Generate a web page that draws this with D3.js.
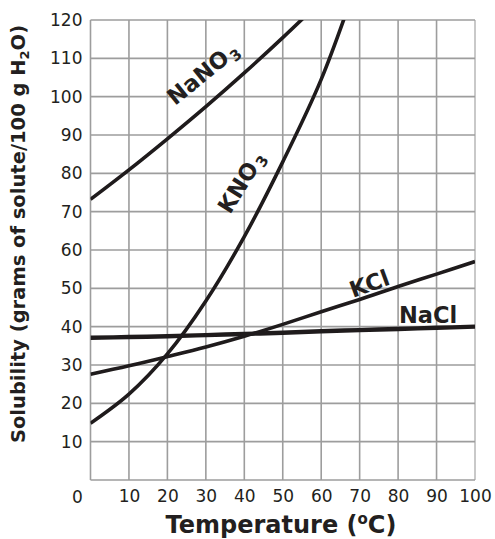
<!DOCTYPE html>
<html>
<head>
<meta charset="utf-8">
<script src="https://cdn.jsdelivr.net/npm/d3@7"></script>
<style>
  html, body { margin: 0; padding: 0; background: #fff; }
  svg { display: block; }
  text { font-family: "DejaVu Sans", Verdana, sans-serif; fill: #231f20; }
</style>
</head>
<body>
<svg id="chart" width="495" height="539"></svg>
<script>
// ---- data ----
const temps = [0, 10, 20, 30, 40, 50, 60, 70, 80, 90, 100];
const naNO3 = [[0, 73.2], [10, 80.9], [20, 89], [30, 97.4], [40, 106.2], [50, 115.4], [60, 125]];
const kNO3  = [[0, 14.8], [10, 22.4], [20, 32.9], [30, 46.7], [40, 63.5], [50, 83], [60, 104.5], [70, 132]];
const kCl   = [27.6, 29.8, 32.2, 34.7, 37.5, 40.6, 43.9, 47.1, 50.5, 53.7, 57];
const naCl  = [37.1, 37.3, 37.5, 37.8, 38.1, 38.4, 38.8, 39.1, 39.4, 39.7, 40];
const xTicks = [10, 20, 30, 40, 50, 60, 70, 80, 90, 100];
const yTicks = [10, 20, 30, 40, 50, 60, 70, 80, 90, 100, 110, 120];

const svg = d3.select("#chart");
const x = d3.scaleLinear().domain([0, 100]).range([90.5, 475]);
const y = d3.scaleLinear().domain([0, 120]).range([480, 20]);

// clip
svg.append("clipPath").attr("id", "plot")
  .append("rect").attr("x", x(0)).attr("y", y(120))
  .attr("width", x(100) - x(0)).attr("height", y(0) - y(120));

// grid
const grid = svg.append("g");
grid.selectAll("line.v").data(d3.range(0, 101, 10)).join("line")
  .attr("x1", d => x(d)).attr("x2", d => x(d))
  .attr("y1", y(0)).attr("y2", y(120))
  .attr("stroke", d => d === 100 ? "#bcbcbc" : "#9d9d9d").attr("stroke-width", 1.6);
grid.selectAll("line.h").data(d3.range(0, 121, 10)).join("line")
  .attr("x1", x(0)).attr("x2", x(100))
  .attr("y1", d => y(d)).attr("y2", d => y(d))
  .attr("stroke", "#9d9d9d").attr("stroke-width", 1.6);

// axes labels
const yAxis = svg.append("g").attr("transform", `translate(${x(0)},0)`)
  .call(d3.axisLeft(y).tickValues(yTicks).tickSize(0).tickPadding(8));
const xAxis = svg.append("g").attr("transform", `translate(0,${y(0)})`)
  .call(d3.axisBottom(x).tickValues(xTicks).tickSize(0).tickPadding(10));
[yAxis, xAxis].forEach(a => {
  a.select(".domain").remove();
  a.selectAll("text").style("font-size", "17px").attr("fill", "#231f20")
    .style("font-family", '"DejaVu Sans", Verdana, sans-serif');
});
svg.append("text").attr("x", x(0) - 13).attr("y", 503).attr("text-anchor", "middle")
  .style("font-size", "17px").text("0");

// axis titles
const xt = svg.append("text").attr("x", 281).attr("y", 533).attr("text-anchor", "middle")
  .style("font-size", "24px").style("font-weight", "bold");
xt.append("tspan").text("Temperature (");
xt.append("tspan").attr("dy", -9).style("font-size", "15px").text("o");
xt.append("tspan").attr("dy", 9).text("C)");

const yt = svg.append("text").attr("transform", "translate(25,234) rotate(-90)")
  .attr("text-anchor", "middle").style("font-size", "19.5px").style("font-weight", "bold");
yt.append("tspan").text("Solubility (grams of solute/100 g H");
yt.append("tspan").attr("dy", 4).style("font-size", "13px").text("2");
yt.append("tspan").attr("dy", -4).text("O)");

// curves
const curves = svg.append("g").attr("clip-path", "url(#plot)");
const line = d3.line().x(d => x(d[0])).y(d => y(d[1])).curve(d3.curveCatmullRom.alpha(0.5));
const series = [
  { data: naNO3, w: 3.6 },
  { data: kNO3, w: 3.6 },
  { data: temps.map((t, i) => [t, kCl[i]]), w: 3.6 },
  { data: temps.map((t, i) => [t, naCl[i]]), w: 4.4 }
];
curves.selectAll("path").data(series).join("path")
  .attr("d", d => line(d.data)).attr("fill", "none")
  .attr("stroke", "#1f1b1c").attr("stroke-width", d => d.w);

// curve labels
function label(px, py, angle, main, sub) {
  const t = svg.append("text").attr("transform", `translate(${px},${py}) rotate(${angle})`)
    .style("font-size", "22.5px").style("font-weight", "bold");
  t.append("tspan").text(main);
  if (sub) t.append("tspan").attr("dy", 4).attr("dx", 2).style("font-size", "15px").text(sub);
}
label(175, 106, -39, "NaNO", "3");
label(230, 215, -58, "KNO", "3");
label(353, 298, -20, "KCl");
label(399, 323, 0, "NaCl");
</script>
</body>
</html>
